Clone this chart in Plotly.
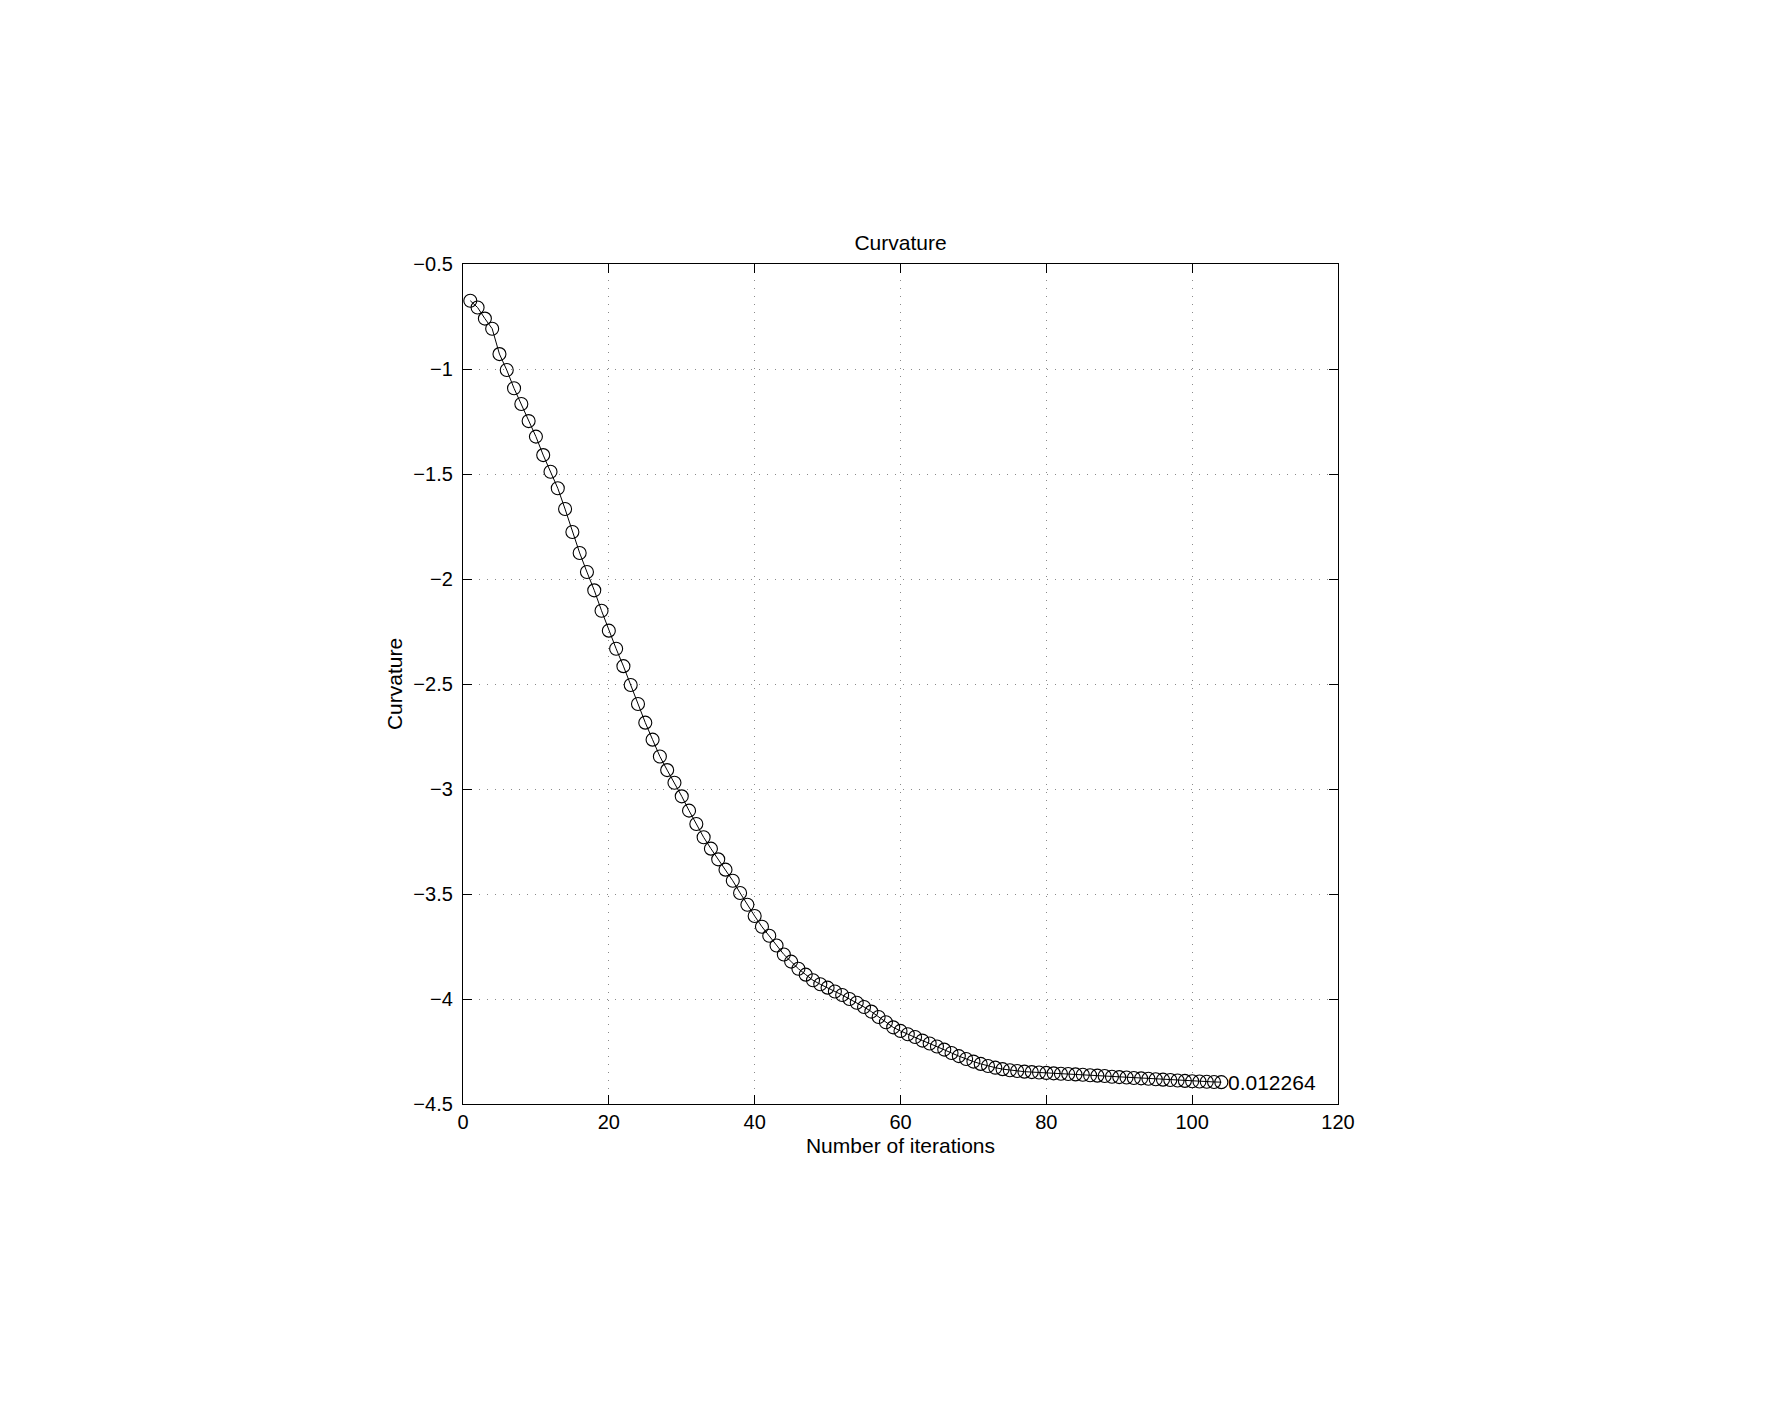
import plotly.graph_objects as go

# values (iteration 1..104)
iterations = list(range(1, 105))
curvature = [
    -0.675, -0.707, -0.760, -0.808, -0.929, -1.005, -1.092, -1.167, -1.248, -1.322,
    -1.410, -1.489, -1.568, -1.667, -1.776, -1.876, -1.967, -2.054, -2.151, -2.246,
    -2.332, -2.415, -2.505, -2.595, -2.684, -2.765, -2.845, -2.910, -2.970, -3.035,
    -3.103, -3.167, -3.230, -3.284, -3.335, -3.384, -3.437, -3.495, -3.551, -3.605,
    -3.656, -3.699, -3.745, -3.788, -3.822, -3.856, -3.884, -3.911, -3.930, -3.946,
    -3.964, -3.981, -4.000, -4.018, -4.038, -4.060, -4.086, -4.111, -4.135, -4.152,
    -4.168, -4.181, -4.198, -4.212, -4.226, -4.241, -4.257, -4.272, -4.286, -4.298,
    -4.309, -4.319, -4.327, -4.334, -4.339, -4.343, -4.346, -4.348, -4.350, -4.352,
    -4.354, -4.356, -4.357, -4.359, -4.361, -4.363, -4.365, -4.367, -4.370, -4.372,
    -4.374, -4.376, -4.378, -4.380, -4.382, -4.384, -4.386, -4.388, -4.390, -4.392,
    -4.393, -4.394, -4.395, -4.396,
]
end_label = "0.012264"

x_ticks = [0, 20, 40, 60, 80, 100, 120]
y_ticks = [-0.5, -1, -1.5, -2, -2.5, -3, -3.5, -4, -4.5]
y_ticklabels = ["\u22120.5", "\u22121", "\u22121.5", "\u22122", "\u22122.5",
                "\u22123", "\u22123.5", "\u22124", "\u22124.5"]

FONT = "Liberation Sans, Helvetica, Arial, sans-serif"

fig = go.Figure()
fig.add_trace(go.Scatter(
    x=iterations,
    y=curvature,
    mode="lines+markers",
    line=dict(color="black", width=1),
    marker=dict(symbol="circle-open", size=13, color="black", line=dict(width=1.1)),
    showlegend=False,
))

# value printed next to the last point
fig.add_annotation(
    x=iterations[-1] + 0.6, y=curvature[-1], text=end_label,
    showarrow=False, xanchor="left", yanchor="middle",
    font=dict(size=21, color="black", family=FONT),
)

axis_common = dict(
    showline=True, linecolor="black", linewidth=1.3, mirror="allticks",
    ticks="inside", ticklen=9, tickwidth=1, tickcolor="black",
    showgrid=True, gridcolor="#8a8a8a", gridwidth=1, griddash="1px,7px",
    zeroline=False,
    tickfont=dict(size=20, color="black", family=FONT),
)

fig.update_xaxes(
    range=[0, 120], tickvals=x_ticks,
    title=dict(text="Number of iterations", font=dict(size=21, color="black", family=FONT), standoff=6),
    **axis_common,
)
fig.update_yaxes(
    range=[-4.5, -0.5], tickvals=y_ticks, ticktext=y_ticklabels, ticklabelstandoff=5,
    title=dict(text="Curvature", font=dict(size=21, color="black", family=FONT), standoff=5),
    **axis_common,
)

# page has an 8px body margin, so the figure is sized to fit inside it
fig.update_layout(
    width=1775, height=1412,
    margin=dict(l=455, r=445, t=256, b=316),
    paper_bgcolor="white", plot_bgcolor="white",
    title=dict(text="Curvature", x=0.5, xref="paper", xanchor="center",
               y=1, yref="paper", yanchor="bottom", pad=dict(b=14),
               font=dict(size=21, color="black", family=FONT)),
)

fig.write_html("out.html")
